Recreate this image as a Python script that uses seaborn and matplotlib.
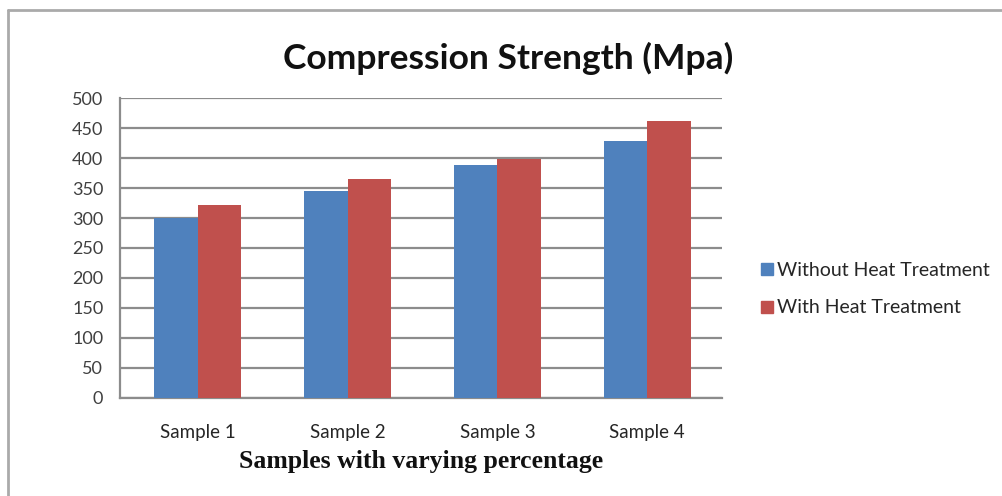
import numpy as np
import pandas as pd
import matplotlib
matplotlib.use("Agg")
import matplotlib.pyplot as plt
from matplotlib.lines import Line2D
import seaborn as sns

# Datos
muestras = ["Sample 1", "Sample 2", "Sample 3", "Sample 4"]
sin_tratamiento = [300, 345, 388, 428]
con_tratamiento = [322, 365, 399, 461]
series = ["Without Heat Treatment", "With Heat Treatment"]
colores = ["#4F81BD", "#C0504D"]
yticks = list(range(0, 501, 50))

df = pd.DataFrame({
    "muestra": muestras * 2,
    "valor": sin_tratamiento + con_tratamiento,
    "serie": [series[0]] * 4 + [series[1]] * 4,
})

sns.set_style("white")
plt.rcParams["font.family"] = ["Lato", "DejaVu Sans"]

fig = plt.figure(figsize=(10.03, 4.96), dpi=100)
ax = fig.add_axes([0.1196, 0.1976, 0.6002, 0.6048])

sns.barplot(data=df, x="muestra", y="valor", hue="serie", palette=colores,
            width=0.58, gap=0, saturation=1, linewidth=0, ax=ax, legend=False,
            zorder=3)

ax.set_ylim(0, 500)
ax.set_xlim(-0.52, 3.48)
ax.set_yticks(yticks)
ax.grid(axis="y", color="#8c8c8c", linewidth=1.6, zorder=0)
ax.set_axisbelow(True)
for lado in ["top", "right"]:
    ax.spines[lado].set_visible(False)
for lado in ["left", "bottom"]:
    ax.spines[lado].set_color("#8c8c8c")
    ax.spines[lado].set_linewidth(1.6)

# ticks del eje x en los limites de categoria
ax.set_xticks(np.arange(-0.5, 4.0, 1.0), minor=False)
ax.set_xticklabels([])
ax.set_xticks(np.arange(4), minor=True)
ax.set_xticklabels(muestras, minor=True)
ax.tick_params(axis="x", which="major", length=6, width=1.4, color="#8c8c8c",
               direction="out")
ax.tick_params(axis="x", which="minor", length=0, pad=19, labelsize=13.5,
               labelcolor="#262626")
ax.tick_params(axis="y", length=6, width=1.4, color="#8c8c8c", direction="out",
               labelsize=13, labelcolor="#404040", pad=6)

ax.set_ylabel("")
ax.set_xlabel("Samples with varying percentage", fontsize=18.5, fontweight="bold",
              family=["Liberation Serif"], labelpad=6, color="#111111")

fig.text(0.507, 0.882, "Compression Strength (Mpa)", ha="center", va="center",
         fontsize=25.5, fontweight="bold", color="#111111")

handles = [Line2D([0], [0], marker="s", linestyle="", markersize=9,
                  markerfacecolor=c, markeredgecolor=c) for c in colores]
fig.legend(handles, series, loc="center left", bbox_to_anchor=(0.748, 0.417),
           frameon=False, fontsize=14, handletextpad=0.1, labelspacing=1.05,
           handlelength=0.9, borderaxespad=0, labelcolor="#262626")

# marco exterior (solo borde superior e izquierdo visibles)
fig.add_artist(Line2D([8 / 1003, 1], [1 - 10 / 496] * 2, color="#aaaaaa", linewidth=2,
                      transform=fig.transFigure))
fig.add_artist(Line2D([8 / 1003] * 2, [0, 1 - 10 / 496], color="#aaaaaa", linewidth=2,
                      transform=fig.transFigure))

fig.savefig("out.png", dpi=100, facecolor="white")
